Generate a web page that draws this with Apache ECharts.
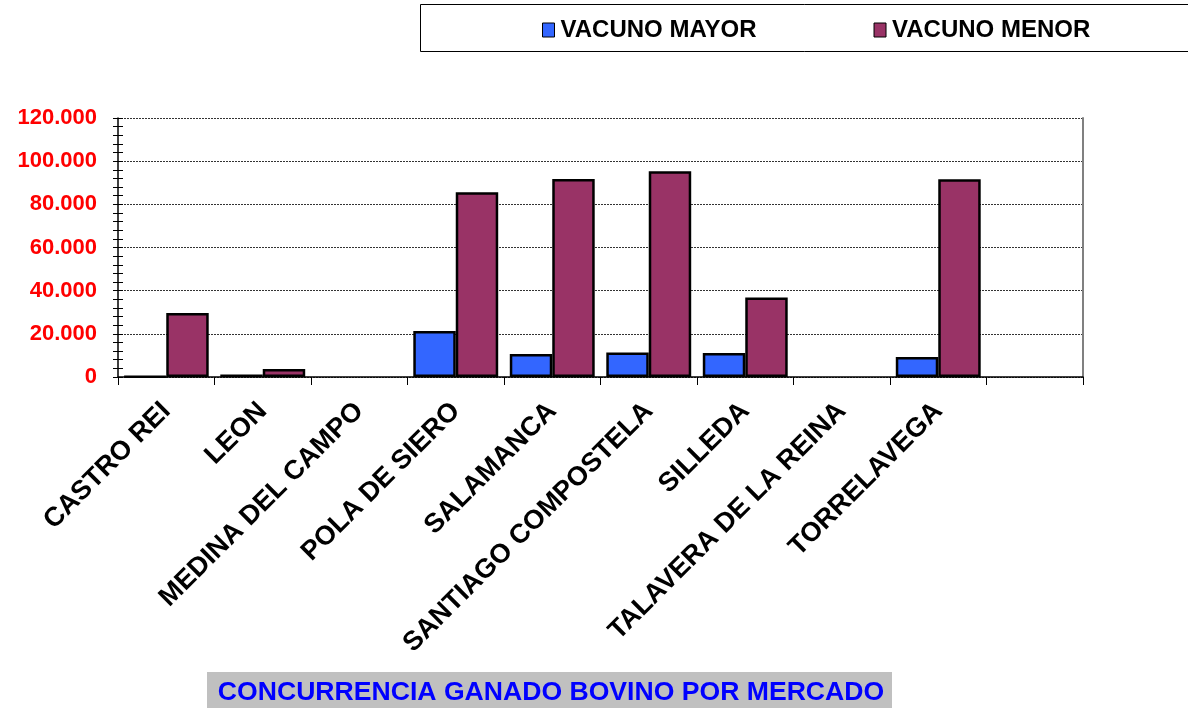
<!DOCTYPE html>
<html>
<head>
<meta charset="utf-8">
<script src="https://cdn.jsdelivr.net/npm/echarts@6/dist/echarts.min.js"></script>
<style>
html, body { margin: 0; padding: 0; background: #fff; }
#chart { width: 1188px; height: 708px; }
</style>
</head>
<body>
<div id="chart"></div>
<script>
// concurrencia por mercado
var categories = ['CASTRO REI', 'LEON', 'MEDINA DEL CAMPO', 'POLA DE SIERO', 'SALAMANCA',
	'SANTIAGO COMPOSTELA', 'SILLEDA', 'TALAVERA DE LA REINA', 'TORRELAVEGA', ''];
var vacunoMayor = [300, 1200, null, 21300, 10700, 11400, 11100, null, 9300, null];
var vacunoMenor = [29700, 3700, null, 85600, 91700, 95300, 36800, null, 91600, null];
var seriesNames = ['VACUNO MAYOR', 'VACUNO MENOR'];
var titleText = 'CONCURRENCIA GANADO BOVINO POR MERCADO';

function miles(v) {
	return String(v).replace(/\B(?=(\d{3})+(?!\d))/g, '.');
}

var chart = echarts.init(document.getElementById('chart'));
var font = '"Liberation Sans", Arial, sans-serif';

chart.setOption({
	animation: false,
	textStyle: { fontFamily: font },
	color: ['#3366ff', '#993366'],
	graphic: [
		{
			type: 'rect',
			shape: { x: 420.5, y: 4.5, width: 800, height: 47 },
			style: { fill: '#fff', stroke: '#000', lineWidth: 1 },
			z: -1
		},
		{
			type: 'rect',
			shape: { x: 207, y: 672, width: 685, height: 40 },
			style: { fill: '#c0c0c0' },
			z: -1
		}
	],
	title: {
		text: titleText,
		left: 546,
		top: 674,
		textAlign: 'center',
		textStyle: { color: '#0000ff', fontSize: 26.6, fontWeight: 'bold', fontFamily: font }
	},
	legend: {
		data: seriesNames,
		left: 537,
		top: 13,
		itemGap: 117,
		itemWidth: 12,
		itemHeight: 14,
		icon: 'rect',
		itemStyle: { borderColor: '#000', borderWidth: 1 },
		textStyle: { color: '#000', fontSize: 24, fontWeight: 'bold', fontFamily: font, padding: [0, 0, 0, 1] }
	},
	grid: {
		left: 118,
		right: 105,
		top: 118,
		bottom: 331
	},
	xAxis: {
		type: 'category',
		data: categories,
		axisLine: { lineStyle: { color: '#000', width: 1.5 } },
		axisTick: { show: true, length: 8, lineStyle: { color: '#000' } },
		axisLabel: {
			interval: 0,
			rotate: 45,
			margin: 30,
			color: '#000',
			fontSize: 27,
			fontWeight: 'bold',
			fontFamily: font
		}
	},
	yAxis: [
		{
			type: 'value',
			min: 0,
			max: 120000,
			interval: 20000,
			axisLine: { show: true, lineStyle: { color: '#000', width: 1.5 } },
			axisTick: { show: true, length: 5, lineStyle: { color: '#000' } },
			minorTick: { show: true, splitNumber: 5, length: 5, lineStyle: { color: '#000' } },
			splitLine: { show: true, lineStyle: { color: '#333', type: [2, 1], width: 1 } },
			axisLabel: {
				margin: 21,
				color: '#ff0000',
				fontSize: 22,
				fontWeight: 'bold',
				fontFamily: font,
				formatter: miles
			}
		},
		{
			// marcas hacia dentro
			type: 'value',
			position: 'left',
			min: 0,
			max: 120000,
			interval: 20000,
			axisLine: { show: false },
			axisTick: { show: true, inside: true, length: 5, lineStyle: { color: '#000' } },
			minorTick: { show: true, splitNumber: 5, length: 5, lineStyle: { color: '#000' } },
			splitLine: { show: false },
			axisLabel: { show: false }
		},
		{
			// borde derecho
			type: 'value',
			position: 'right',
			min: 0,
			max: 120000,
			axisLine: { show: true, lineStyle: { color: '#808080', width: 2 } },
			axisTick: { show: false },
			splitLine: { show: false },
			axisLabel: { show: false }
		}
	],
	series: [
		{
			name: seriesNames[0],
			type: 'bar',
			data: vacunoMayor,
			barGap: '0%',
			barCategoryGap: '12%',
			itemStyle: { borderColor: '#000', borderWidth: 2.5 }
		},
		{
			name: seriesNames[1],
			type: 'bar',
			data: vacunoMenor,
			barGap: '0%',
			barCategoryGap: '12%',
			itemStyle: { borderColor: '#000', borderWidth: 2.5 }
		}
	]
});
</script>
</body>
</html>
